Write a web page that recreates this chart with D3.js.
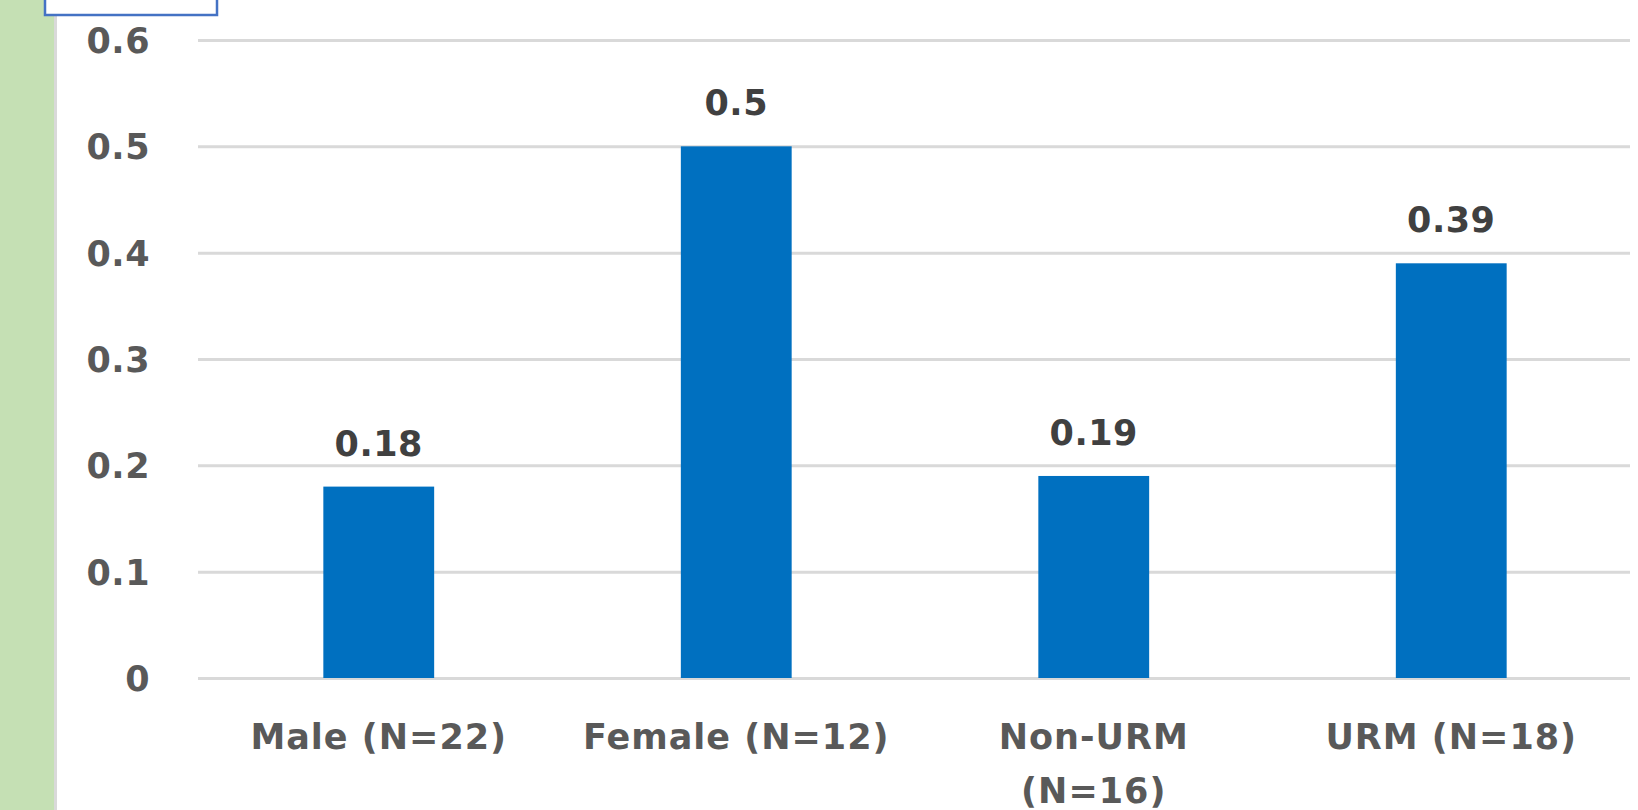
<!DOCTYPE html>
<html>
<head>
<meta charset="utf-8">
<script src="https://cdn.jsdelivr.net/npm/d3@7"></script>
<style>
  html, body { margin: 0; padding: 0; background: #ffffff; }
  svg { display: block; }
  text { font-family: "DejaVu Sans", sans-serif; font-weight: bold; }
</style>
</head>
<body>
<svg id="chart" width="1638" height="810"></svg>
<script>
// Share of each group, by gender and URM status
const categories = ["Male (N=22)", "Female (N=12)", "Non-URM\n(N=16)", "URM (N=18)"];
const values = [0.18, 0.5, 0.19, 0.39];
const yTicks = [0, 0.1, 0.2, 0.3, 0.4, 0.5, 0.6];
const yTickLabels = ["0", "0.1", "0.2", "0.3", "0.4", "0.5", "0.6"];

const svg = d3.select("#chart");
const W = 1638, H = 810;

const plot = { left: 198, right: 1630, top: 40, bottom: 678 };

// Slide frame: green strip on the left with a thin grey edge
svg.append("rect").attr("x", 0).attr("y", 0).attr("width", 54).attr("height", H)
  .attr("fill", "#c5e0b4");
svg.append("rect").attr("x", 54).attr("y", 0).attr("width", 3).attr("height", H)
  .attr("fill", "#d9d9d9");

// Boxed caption clipped at the top edge
svg.append("rect").attr("x", 45).attr("y", -12).attr("width", 172).attr("height", 27)
  .attr("fill", "#ffffff").attr("stroke", "#4472c4").attr("stroke-width", 2.5);

const y = d3.scaleLinear().domain([0, 0.6]).range([plot.bottom, plot.top]);
const x = d3.scaleBand().domain(categories).range([200, 1630])
  .paddingInner(0.69).paddingOuter(0.345);

// Horizontal gridlines and value axis labels
const yAxis = d3.axisLeft(y)
  .tickValues(yTicks)
  .tickFormat((d, i) => yTickLabels[i])
  .tickSize(-(plot.right - plot.left))
  .tickPadding(48);

const gy = svg.append("g").attr("transform", `translate(${plot.left},0)`).call(yAxis);
gy.select(".domain").remove();
gy.selectAll(".tick line").attr("stroke", "#d9d9d9").attr("stroke-width", 3);
gy.selectAll(".tick text")
  .attr("fill", "#595959")
  .style("font-size", "35px")
  .style("letter-spacing", "0.5px")
  .attr("dy", "0.36em");

// Bars
svg.append("g").selectAll("rect")
  .data(values)
  .join("rect")
  .attr("x", (d, i) => x(categories[i]))
  .attr("y", d => y(d))
  .attr("width", x.bandwidth())
  .attr("height", d => y(0) - y(d))
  .attr("fill", "#0070c0");

// Value labels above the bars
svg.append("g").selectAll("text")
  .data(values)
  .join("text")
  .attr("x", (d, i) => x(categories[i]) + x.bandwidth() / 2)
  .attr("y", d => y(d) - 31)
  .attr("text-anchor", "middle")
  .attr("fill", "#404040")
  .style("font-size", "35px")
  .style("letter-spacing", "0.5px")
  .text(d => String(d));

// Category axis labels (wrapped on explicit line breaks)
const xAxis = d3.axisBottom(x).tickSize(0).tickFormat("");
const gx = svg.append("g").attr("transform", `translate(0,${plot.bottom})`).call(xAxis);
gx.select(".domain").remove();
gx.selectAll(".tick").each(function (d) {
  const t = d3.select(this).append("text")
    .attr("text-anchor", "middle")
    .attr("fill", "#595959")
    .style("font-size", "35px")
    .style("letter-spacing", "1px");
  d.split("\n").forEach((line, i) => {
    t.append("tspan").attr("x", 0).attr("y", 71 + i * 54).text(line);
  });
});
</script>
</body>
</html>
